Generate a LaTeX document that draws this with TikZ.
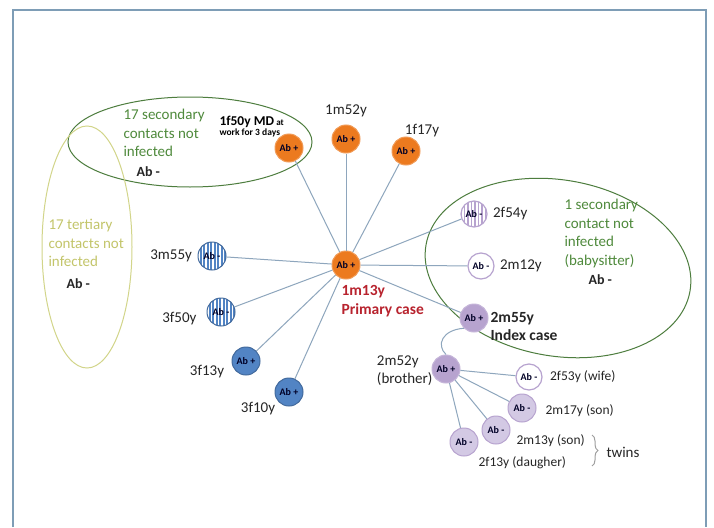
\documentclass[tikz,border=0pt]{standalone}
\usepackage{fontspec}
\setmainfont{Carlito}
\usepackage{xcolor}
\usetikzlibrary{shapes,positioning,decorations.pathreplacing}
\definecolor{orng}{HTML}{EC7A1F}
\definecolor{blu}{HTML}{5284C4}
\definecolor{prpl}{HTML}{B7A3CF}
\definecolor{lprpl}{HTML}{D3C9E4}
\definecolor{edgec}{HTML}{8EA6BD}
\definecolor{grn}{HTML}{4F8A3C}
\definecolor{grnline}{HTML}{4D7D3E}
\definecolor{ylw}{HTML}{D2D58A}
\definecolor{ylwtxt}{HTML}{C3C56A}
\definecolor{framec}{HTML}{7E9DB6}
\definecolor{redtxt}{HTML}{B8232E}
\tikzset{ab/.style={circle,draw,minimum size=28pt,inner sep=0pt,font=\fontsize{10}{10}\selectfont\bfseries,text=black!85!blue}}
\tikzset{ornode/.style={ab,fill=orng,draw=orng!75!white,line width=1pt}}
\tikzset{blnode/.style={ab,fill=blu,draw=blu!80!black,line width=1pt}}
\tikzset{blstripe/.style={blnode,path picture={\foreach \s in {-13,-9.5,...,13} \draw[white,line width=1.4pt] ([xshift=\s pt]path picture bounding box.north) -- ([xshift=\s pt]path picture bounding box.south);}}}
\tikzset{prnode/.style={ab,fill=prpl,draw=prpl!80!white,line width=1pt}}
\tikzset{lpnode/.style={ab,fill=lprpl,draw=prpl,line width=1pt}}
\tikzset{whnode/.style={ab,minimum size=26pt,fill=white,draw=prpl,line width=1.2pt}}
\tikzset{prstripe/.style={whnode,path picture={\foreach \s in {-13,-9.5,...,13} \draw[prpl,line width=1.2pt] ([xshift=\s pt]path picture bounding box.north) -- ([xshift=\s pt]path picture bounding box.south);}}}
\tikzset{lbl/.style={font=\fontsize{15}{18.5}\selectfont,text=black!85}}
\tikzset{small/.style={font=\fontsize{13.5}{16}\selectfont,text=black!85}}
\tikzset{abtxt/.style={font=\fontsize{14}{16}\selectfont\bfseries,text=black!85}}
\tikzset{edge/.style={draw=edgec,line width=1pt}}

\begin{document}
\begin{tikzpicture}[x=1pt,y=-1pt]
    \useasboundingbox (0,0) rectangle (714,527);
    \fill[white] (0,0) rectangle (714,527);
    \draw[framec,line width=2.5pt] (13,527) -- (13,10) -- (706,10) -- (706,527);

    % groups of contacts
    \draw[grnline,line width=1pt] (190,142) ellipse [x radius=122, y radius=45];
    \draw[ylw,line width=1pt] (87,247) ellipse [x radius=45, y radius=121];
    \draw[grnline,line width=1pt,rotate around={-10:(558,268)}] (558,268) ellipse [x radius=134, y radius=88];

    \node[lbl,text=grn,anchor=north west,align=left] (sec1) at (120,106) {17 secondary\\contacts not\\infected};
    \node[abtxt,anchor=west] (sec1ab) at (133,172) {Ab -};
    \node[lbl,text=ylwtxt,anchor=north west,align=left] (ter) at (45,216) {17 tertiary\\contacts not\\infected};
    \node[abtxt,anchor=west] (terab) at (63,284) {Ab -};
    \node[lbl,text=grn,anchor=north west,align=left] (sec2) at (561,196) {1 secondary\\contact not\\infected\\(babysitter)};
    \node[abtxt,anchor=west] (sec2ab) at (585,280) {Ab -};

    % cases
    \node[ornode] (prim) at (346,265) {Ab +};
    \node[ornode] (md) at (289,148) {Ab +};
    \node[ornode] (m52) at (346,139) {Ab +};
    \node[ornode] (f17) at (406,151) {Ab +};
    \node[prstripe] (f54) at (474,214) {Ab -};
    \node[whnode] (m12) at (481,266) {Ab -};
    \node[prnode] (idx) at (474,318) {Ab +};
    \node[prnode] (bro) at (446,369) {Ab +};
    \node[whnode] (wife) at (529,377) {Ab -};
    \node[lpnode] (s17) at (522,408) {Ab -};
    \node[lpnode] (s13) at (496,430) {Ab -};
    \node[lpnode] (d13) at (464,442) {Ab -};
    \node[blstripe] (m55) at (212,256) {Ab -};
    \node[blstripe] (f50) at (221,312) {Ab -};
    \node[blnode] (f13) at (246,361) {Ab +};
    \node[blnode] (f10) at (289,392) {Ab +};

    % labels
    \node[anchor=north west,align=left,text=redtxt,font=\fontsize{15.5}{19}\selectfont\bfseries] (primlbl) at (338,282) {1m13y\\Primary case};
    \node[anchor=west,align=left,text=black] (mdlbl) at (216,127) {{\fontsize{13.5}{15}\selectfont\bfseries 1f50y MD} {\fontsize{9}{10}\selectfont\bfseries at}\\[-2pt]{\fontsize{9.5}{11}\selectfont\bfseries work for 3 days}};
    \node[lbl,above=4pt of m52] (m52lbl) {1m52y};
    \node[lbl] (f17lbl) at (422,131) {1f17y};
    \node[lbl,right=2pt of f54] (f54lbl) {2f54y};
    \node[lbl,right=2pt of m12] (m12lbl) {2m12y};
    \node[anchor=north west,align=left,font=\fontsize{15.5}{18}\selectfont\bfseries,text=black!85] (idxlbl) at (487,309) {2m55y\\Index case};
    \node[lbl,anchor=north east,align=left] (brolbl) at (436,352) {2m52y\\(brother)};
    \node[small,right=4pt of wife] (wifelbl) {2f53y (wife)};
    \node[small,anchor=west] (s17lbl) at (542,411) {2m17y (son)};
    \node[small,anchor=west] (s13lbl) at (513,441) {2m13y (son)};
    \node[small,anchor=west] (d13lbl) at (475,463) {2f13y (daugher)};
    \node[lbl,left=2pt of m55] (m55lbl) {3m55y};
    \node[lbl,anchor=east] (f50lbl) at (200,319) {3f50y};
    \node[lbl] (f13lbl) at (207,372) {3f13y};
    \node[lbl] (f10lbl) at (258,409) {3f10y};
    \coordinate (btop) at (592,435);
    \coordinate (bbot) at (592,466);
    \draw[gray!75,line width=1pt,decorate,decoration={brace,amplitude=6pt}] (btop) -- (bbot);
    \node[lbl,anchor=west] (twins) at (603,452) {twins};

    % contacts
    \draw [edge] (prim) to [] (md);
    \draw [edge] (prim) to [] (m52);
    \draw [edge] (prim) to [] (f17);
    \draw [edge] (prim) to [] (f54);
    \draw [edge] (prim) to [] (m12);
    \draw [edge] (prim) to [] (idx);
    \draw [edge] (prim) to [] (m55);
    \draw [edge] (prim) to [] (f50);
    \draw [edge] (prim) to [] (f13);
    \draw [edge] (prim) to [] (f10);
    \draw [edge] (idx.south west) .. controls (442,330) and (436,345) .. (bro.north);
    \draw [edge] (bro) to [] (wife);
    \draw [edge] (bro) to [] (s17);
    \draw [edge] (bro) to [] (s13);
    \draw [edge] (bro) to [] (d13);
\end{tikzpicture}
\end{document}
